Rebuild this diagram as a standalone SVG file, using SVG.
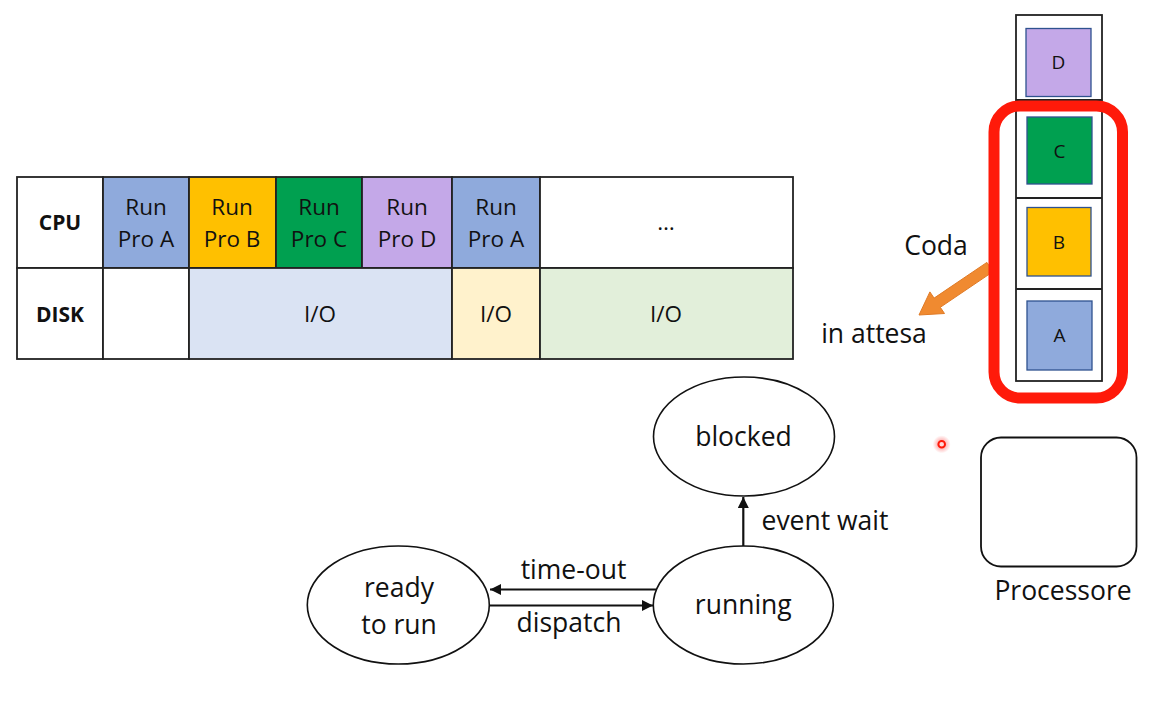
<svg xmlns="http://www.w3.org/2000/svg" width="1171" height="711" viewBox="0 0 1171 711">
<style>
text{font-family:"Open Sans","Noto Sans",sans-serif;fill:#111;text-anchor:middle}
.t{font-size:22.5px}
.b{font-size:21px;font-weight:bold}
.l{font-size:26.5px}
.q{font-size:19px}
.cell{stroke:#222;stroke-width:1.8}
.st{fill:#fff;stroke:#111;stroke-width:1.6}
.sq{stroke:#2F528F;stroke-width:1.3}
.ln{stroke:#111;stroke-width:2.2;fill:none}
</style>
<defs>
<marker id="ah" viewBox="0 0 10 10" refX="10" refY="5" markerWidth="5" markerHeight="5" orient="auto" markerUnits="strokeWidth">
<path d="M0,0 L10,5 L0,10 z" fill="#111"/>
</marker>
<radialGradient id="glow">
<stop offset="0" stop-color="#ff2a2a" stop-opacity="0.6"/>
<stop offset="1" stop-color="#ff2a2a" stop-opacity="0"/>
</radialGradient>
</defs>
<rect width="1171" height="711" fill="#fff"/>

<g id="table">
<rect class="cell" x="17" y="177" width="86" height="91" fill="#fff"/>
<rect class="cell" x="103" y="177" width="86" height="91" fill="#8FAADC"/>
<rect class="cell" x="189" y="177" width="87" height="91" fill="#FFC000"/>
<rect class="cell" x="276" y="177" width="86" height="91" fill="#00A050"/>
<rect class="cell" x="362" y="177" width="90" height="91" fill="#C4A8E8"/>
<rect class="cell" x="452" y="177" width="88" height="91" fill="#8FAADC"/>
<rect class="cell" x="540" y="177" width="253" height="91" fill="#fff"/>
<rect class="cell" x="17" y="268" width="86" height="91" fill="#fff"/>
<rect class="cell" x="103" y="268" width="86" height="91" fill="#fff"/>
<rect class="cell" x="189" y="268" width="263" height="91" fill="#DAE3F3"/>
<rect class="cell" x="452" y="268" width="88" height="91" fill="#FFF2CC"/>
<rect class="cell" x="540" y="268" width="253" height="91" fill="#E2EFDA"/>
<text class="b" x="60" y="230">CPU</text>
<text class="b" x="60" y="322">DISK</text>
<text class="t" x="146" y="215">Run</text><text class="t" x="146" y="247">Pro A</text>
<text class="t" x="232" y="215">Run</text><text class="t" x="232" y="247">Pro B</text>
<text class="t" x="319" y="215">Run</text><text class="t" x="319" y="247">Pro C</text>
<text class="t" x="407" y="215">Run</text><text class="t" x="407" y="247">Pro D</text>
<text class="t" x="496" y="215">Run</text><text class="t" x="496" y="247">Pro A</text>
<text class="t" x="666" y="230">…</text>
<text class="t" x="320" y="322">I/O</text>
<text class="t" x="496" y="322">I/O</text>
<text class="t" x="666" y="322">I/O</text>
</g>

<g id="queue">
<rect x="1016" y="15" width="86" height="366" fill="#fff" stroke="#222" stroke-width="1.8"/>
<line x1="1016" y1="100" x2="1102" y2="100" stroke="#222" stroke-width="1.8"/>
<line x1="1016" y1="198" x2="1102" y2="198" stroke="#222" stroke-width="1.8"/>
<line x1="1016" y1="289" x2="1102" y2="289" stroke="#222" stroke-width="1.8"/>
<g id="qD"><rect class="sq" x="1026" y="28.5" width="65" height="68" fill="#C4A8E8"/><text class="q" x="1058.5" y="69">D</text></g>
<g id="qC"><rect class="sq" x="1027" y="117" width="65" height="67" fill="#00A050"/><text class="q" x="1059.5" y="158">C</text></g>
<g id="qB"><rect class="sq" x="1027" y="207.5" width="64" height="68.5" fill="#FFC000"/><text class="q" x="1059" y="249">B</text></g>
<g id="qA"><rect class="sq" x="1027" y="301" width="65" height="69" fill="#8FAADC"/><text class="q" x="1059.5" y="342">A</text></g>
</g>

<g id="coda-arrow">
<polygon points="986.9,262.4 934.1,298.1 929.9,291.9 919,315 944.5,313.5 940.3,307.3 993.1,271.6" fill="#F08A30" stroke="#E07A25" stroke-width="1"/>
</g>

<g id="highlight">
<rect x="994" y="106" width="128.5" height="292" rx="26" ry="26" fill="none" stroke="#FF1A0A" stroke-width="11"/>
</g>

<text class="l" x="936" y="255">Coda</text>
<text class="l" x="874" y="343">in attesa</text>

<g id="processore">
<rect x="981" y="437.5" width="155.5" height="129" rx="20" ry="20" fill="#fff" stroke="#111" stroke-width="1.8"/>
<text class="l" x="1063" y="600">Processore</text>
</g>

<g id="pointer">
<circle cx="941.7" cy="444.3" r="9" fill="url(#glow)"/>
<circle cx="941.7" cy="444.3" r="3.3" fill="#ffdada" stroke="#ff1a0a" stroke-width="2"/>
</g>

<g id="blocked"><ellipse class="st" cx="744" cy="436.5" rx="90.5" ry="59.5"/><text class="l" x="743.5" y="446">blocked</text></g>
<g id="running"><ellipse class="st" cx="743.3" cy="605" rx="90" ry="59"/><text class="l" x="743.3" y="614">running</text></g>
<g id="ready"><ellipse class="st" cx="398.3" cy="605" rx="91" ry="59"/><text class="l" x="399" y="597">ready</text><text class="l" x="399" y="634">to run</text></g>

<g id="connectors">
<line class="ln" x1="656" y1="589.5" x2="490" y2="589.5" marker-end="url(#ah)"/>
<line class="ln" x1="490" y1="605.5" x2="653" y2="605.5" marker-end="url(#ah)"/>
<line class="ln" x1="743.3" y1="546" x2="743.3" y2="497" marker-end="url(#ah)"/>
<text class="l" x="825" y="530">event wait</text>
<text class="l" x="573.5" y="579">time-out</text>
<text class="l" x="569" y="632">dispatch</text>
</g>
</svg>
